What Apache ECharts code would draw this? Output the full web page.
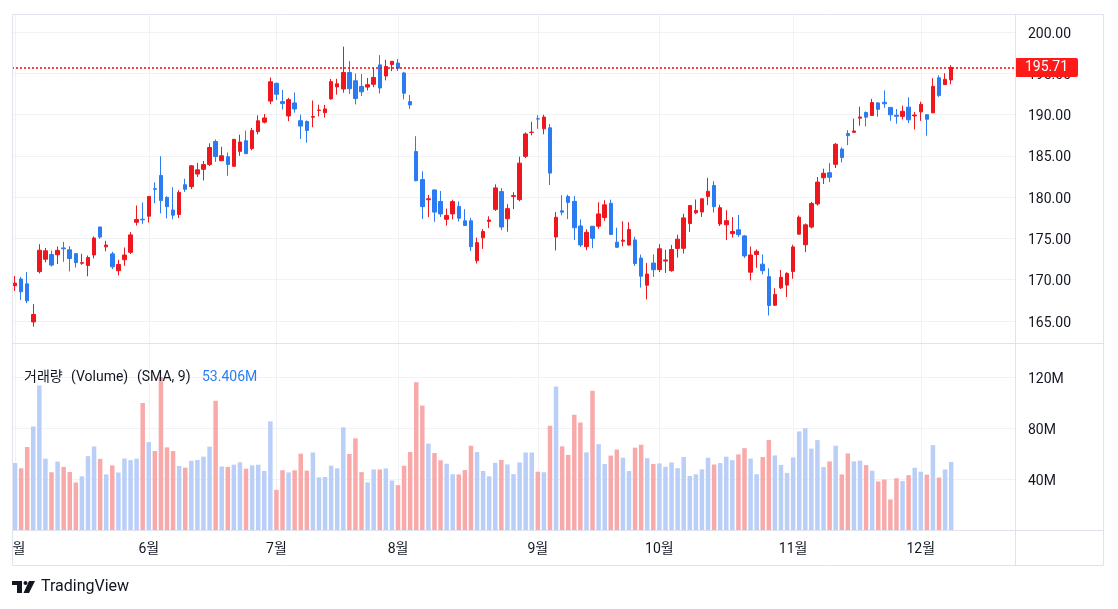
<!DOCTYPE html>
<html><head><meta charset="utf-8">
<script src="https://cdn.jsdelivr.net/npm/echarts@6/dist/echarts.min.js"></script>
<style>html,body{margin:0;padding:0;background:#fff;}#c{width:1118px;height:609px;}</style>
</head><body><div id="c"></div>
<script>
const dates = ['2023-05-01','2023-05-02','2023-05-03','2023-05-04','2023-05-05','2023-05-08','2023-05-09','2023-05-10','2023-05-11','2023-05-12','2023-05-15','2023-05-16','2023-05-17','2023-05-18','2023-05-19','2023-05-22','2023-05-23','2023-05-24','2023-05-25','2023-05-26','2023-05-30','2023-05-31',
'2023-06-01','2023-06-02','2023-06-05','2023-06-06','2023-06-07','2023-06-08','2023-06-09','2023-06-12','2023-06-13','2023-06-14','2023-06-15','2023-06-16','2023-06-20','2023-06-21','2023-06-22','2023-06-23','2023-06-26','2023-06-27','2023-06-28','2023-06-29','2023-06-30',
'2023-07-03','2023-07-05','2023-07-06','2023-07-07','2023-07-10','2023-07-11','2023-07-12','2023-07-13','2023-07-14','2023-07-17','2023-07-18','2023-07-19','2023-07-20','2023-07-21','2023-07-24','2023-07-25','2023-07-26','2023-07-27','2023-07-28','2023-07-31',
'2023-08-01','2023-08-02','2023-08-03','2023-08-04','2023-08-07','2023-08-08','2023-08-09','2023-08-10','2023-08-11','2023-08-14','2023-08-15','2023-08-16','2023-08-17','2023-08-18','2023-08-21','2023-08-22','2023-08-23','2023-08-24','2023-08-25','2023-08-28','2023-08-29','2023-08-30','2023-08-31',
'2023-09-01','2023-09-05','2023-09-06','2023-09-07','2023-09-08','2023-09-11','2023-09-12','2023-09-13','2023-09-14','2023-09-15','2023-09-18','2023-09-19','2023-09-20','2023-09-21','2023-09-22','2023-09-25','2023-09-26','2023-09-27','2023-09-28','2023-09-29',
'2023-10-02','2023-10-03','2023-10-04','2023-10-05','2023-10-06','2023-10-09','2023-10-10','2023-10-11','2023-10-12','2023-10-13','2023-10-16','2023-10-17','2023-10-18','2023-10-19','2023-10-20','2023-10-23','2023-10-24','2023-10-25','2023-10-26','2023-10-27','2023-10-30','2023-10-31',
'2023-11-01','2023-11-02','2023-11-03','2023-11-06','2023-11-07','2023-11-08','2023-11-09','2023-11-10','2023-11-13','2023-11-14','2023-11-15','2023-11-16','2023-11-17','2023-11-20','2023-11-21','2023-11-22','2023-11-24','2023-11-27','2023-11-28','2023-11-29','2023-11-30',
'2023-12-01','2023-12-04','2023-12-05','2023-12-06','2023-12-07','2023-12-08'];

const opens = [169.28,170.09,169.50,164.89,170.98,172.48,173.05,173.02,173.85,173.62,173.16,171.99,171.71,173.00,176.39,173.98,173.13,171.09,172.41,173.32,176.96,177.33,
177.70,181.03,182.63,179.97,178.44,177.90,181.50,181.27,182.80,183.37,183.96,186.73,184.41,184.90,183.74,185.55,186.83,185.89,187.93,189.08,191.63,
193.78,191.57,189.84,191.41,189.26,189.16,189.68,190.50,190.23,191.90,193.35,193.10,195.09,194.10,193.41,193.33,193.67,196.02,194.67,196.06,
196.24,195.04,191.57,185.52,182.13,179.69,180.87,179.48,177.32,177.97,178.88,177.13,177.14,172.30,175.07,177.06,178.52,180.67,177.38,180.09,179.70,184.94,187.84,
189.49,188.28,188.40,175.18,178.35,180.07,179.49,176.51,174.00,176.48,176.48,177.52,179.26,174.55,174.67,174.20,174.82,172.62,169.34,172.02,
171.22,172.26,171.09,173.79,173.80,176.81,178.10,178.20,180.07,181.42,176.75,176.65,175.58,176.04,175.31,170.91,173.05,171.88,170.37,166.91,169.02,169.35,
171.00,175.52,174.24,176.38,179.18,182.35,182.96,183.97,185.82,187.70,187.85,189.57,190.25,189.89,191.41,191.49,190.87,189.92,189.78,190.90,189.84,
190.33,189.98,190.21,194.45,193.63,194.20];

const highs = [170.45,170.35,170.92,167.04,174.30,173.85,173.54,174.03,174.59,174.06,173.21,173.14,172.93,175.24,176.39,174.71,173.38,172.42,173.90,175.77,178.99,179.35,
180.12,181.78,184.95,180.12,181.21,180.84,182.23,183.89,184.15,184.39,186.52,186.99,186.10,185.41,187.05,187.56,188.05,188.39,189.90,190.07,194.48,
193.88,192.98,192.02,192.67,189.99,189.30,191.70,191.19,191.18,194.32,194.33,198.23,196.47,194.97,194.91,194.44,195.64,197.20,196.63,196.49,
196.73,195.18,192.37,187.38,183.13,180.27,180.93,180.75,178.62,179.69,179.48,178.54,177.51,175.10,176.13,177.68,181.55,181.10,179.15,180.59,184.90,187.85,189.12,
189.92,189.98,188.85,178.21,180.24,180.30,180.13,177.30,176.10,176.50,179.38,179.63,179.70,176.30,177.08,176.97,175.20,173.04,172.03,173.07,
174.30,173.63,174.21,175.45,177.99,179.05,179.72,179.85,182.34,181.93,179.08,178.42,177.58,177.84,175.42,174.01,173.67,173.06,171.38,168.96,171.17,170.90,
174.23,177.78,176.82,179.43,182.44,183.45,184.12,186.57,186.03,188.11,189.50,190.96,190.38,191.91,191.52,192.93,190.90,190.67,191.08,192.09,190.32,
191.56,190.05,194.40,194.76,195.00,195.99];

const lows = [168.64,167.54,167.16,164.31,170.76,172.11,171.60,171.90,172.17,171.00,171.47,171.80,170.42,172.58,174.94,173.45,171.28,170.52,171.69,173.11,176.57,176.76,
176.93,179.26,178.04,177.43,177.32,177.46,180.63,180.97,182.44,182.02,183.78,184.27,184.41,182.59,183.67,185.01,185.23,185.67,187.60,188.94,191.26,
191.76,190.62,189.20,190.24,187.04,186.60,188.47,189.78,189.63,191.81,192.42,192.65,192.50,191.23,192.25,192.92,193.32,192.55,194.14,195.26,
195.28,191.85,190.69,181.92,177.35,177.58,177.01,177.60,176.55,177.31,177.05,176.50,173.48,171.96,173.74,176.25,178.33,176.01,175.82,178.55,179.50,184.74,187.48,
188.28,187.61,181.47,173.54,177.79,177.34,174.82,173.98,173.58,173.82,176.17,177.13,175.40,173.86,174.05,174.15,171.66,169.05,167.62,170.34,
170.93,170.82,170.97,172.68,173.18,175.80,177.95,177.60,179.04,178.14,176.51,174.80,175.11,175.19,172.64,169.93,171.45,170.65,165.67,166.83,168.87,167.90,
170.12,175.46,173.35,176.21,178.97,181.59,181.81,183.53,184.21,186.30,187.78,188.65,188.57,189.88,189.74,190.83,189.25,188.90,189.40,188.97,188.19,
189.23,187.45,190.18,192.11,193.59,193.67];

const closes = [169.59,168.54,167.45,165.79,173.57,173.50,171.77,173.56,173.75,172.57,172.07,172.07,172.69,175.05,175.16,174.20,171.56,171.84,172.99,175.43,177.30,177.25,
180.09,180.95,179.58,178.85,177.82,180.57,180.96,183.79,183.31,183.95,186.01,184.92,185.01,183.96,187.00,186.68,185.27,188.06,189.25,189.59,193.97,
192.46,191.33,191.81,190.68,188.61,188.08,189.77,190.54,190.69,193.99,193.73,195.10,193.13,191.94,192.75,193.62,194.50,193.22,195.83,196.45,
195.61,192.58,191.17,181.99,178.85,179.80,178.19,177.97,177.79,179.46,177.45,176.57,174.00,174.49,175.84,177.23,181.12,176.38,178.61,180.19,184.12,187.65,187.87,
189.46,189.70,182.91,177.56,178.18,179.36,176.30,174.21,175.74,175.01,177.97,179.07,175.49,173.93,174.79,176.08,171.96,170.43,170.69,171.21,
173.75,172.40,173.66,174.91,177.49,178.99,178.39,179.80,180.71,178.85,178.72,177.15,175.84,175.46,172.88,173.00,173.44,171.10,166.89,168.22,170.29,170.77,
173.97,177.57,176.65,179.23,181.82,182.89,182.41,186.40,184.80,187.44,188.01,189.71,189.69,191.45,190.64,191.31,189.97,189.79,190.40,189.37,189.95,
191.24,189.43,193.42,192.32,194.27,195.71];

// volume in millions of shares
const volumes = [52.5,48.4,65.1,81.2,113.3,55.9,45.3,53.7,49.5,45.5,37.3,42.1,57.9,65.5,55.8,43.6,50.7,45.1,56.1,54.8,55.9,99.6,
68.9,61.9,120.0,64.8,61.9,50.2,48.9,54.3,54.9,57.5,65.4,101.3,49.8,49.5,51.2,53.1,48.1,50.7,51.2,46.3,85.2,
31.5,46.9,45.2,46.8,59.9,46.6,60.8,41.3,41.6,50.5,48.4,80.5,59.6,71.9,45.4,37.3,47.5,47.5,48.3,38.8,
35.2,50.4,61.2,115.8,97.6,67.8,60.4,54.7,52.0,43.7,43.6,47.0,66.1,61.1,46.3,42.1,52.7,55.0,51.4,43.8,53.0,60.8,60.8,
45.7,45.3,81.8,112.5,65.6,58.9,90.4,84.3,60.9,109.3,67.3,51.8,58.4,63.1,56.7,46.2,64.6,66.9,56.3,51.8,
52.2,49.6,53.0,48.5,57.2,42.4,43.7,47.6,56.7,51.4,52.5,57.5,54.8,59.3,64.2,56.0,43.8,57.2,70.6,58.5,51.1,44.8,
56.9,77.3,79.8,63.8,70.5,49.3,53.8,66.1,43.6,60.1,53.8,54.4,50.9,46.5,38.1,39.6,24.0,40.6,38.4,43.0,48.8,
45.7,43.4,66.6,41.1,47.5,53.406];

const legendParts = ['거래량', '(Volume)', '(SMA, 9)'];

// ---- build chart ----
const N = dates.length;
const FUTURE = 10; // empty right-hand space of the time scale
const cats = dates.concat(Array.from({length: FUTURE}, (_, k) => 'future-' + k));
const isMonthStart = i => i < N && (i === 0 || dates[i].slice(5, 7) !== dates[i - 1].slice(5, 7));

const UP = '#f0161e', DOWN = '#2b7cf0';
const VOL_UP = '#b9cff8', VOL_DOWN = '#f8aaab';
const GRID = '#f0f2f6', FRAME = '#e0e3eb', TXT = '#131722';
const PRICE_LINE = '#ff0000';
const FONT = 'Roboto, "Noto Sans CJK KR", sans-serif';

const candleData = dates.map((d, i) => [opens[i], closes[i], lows[i], highs[i]]);
const volData = volumes.map((v, i) => ({value: v, itemStyle: {color: closes[i] > opens[i] ? VOL_UP : VOL_DOWN}}));
const lastClose = closes[N - 1], lastVol = volumes[N - 1];

const axisRich = {t: {fontSize: 14, color: TXT, fontFamily: FONT, padding: [4, 0, 0, 0]}};

const chart = echarts.init(document.getElementById('c'), null, {renderer: 'canvas'});
const legendX = [24, 71, 137, 202];
const option = {
  animation: false,
  backgroundColor: '#ffffff',
  textStyle: {fontFamily: FONT},
  grid: [
    {left: 12, width: 1003, top: 14, height: 348.3},
    {left: 12, width: 1003, top: 343, height: 187}
  ],
  xAxis: [
    {type: 'category', gridIndex: 0, data: cats, boundaryGap: true,
     axisLine: {show: false}, axisTick: {show: false}, axisLabel: {show: false},
     splitLine: {show: true, interval: (i) => isMonthStart(i), alignWithLabel: true, lineStyle: {color: GRID, width: 1}}},
    {type: 'category', gridIndex: 1, data: cats, boundaryGap: true,
     axisLine: {show: false}, axisTick: {show: false},
     axisLabel: {interval: (i) => isMonthStart(i), formatter: (v) => parseInt(v.slice(5, 7), 10) + '월',
                 color: TXT, fontSize: 14, margin: 12, fontFamily: FONT},
     splitLine: {show: true, interval: (i) => isMonthStart(i), alignWithLabel: true, lineStyle: {color: GRID, width: 1}}}
  ],
  yAxis: [
    {type: 'value', gridIndex: 0, position: 'right', min: 160, max: 202.18, interval: 5, scale: true,
     axisLine: {show: false}, axisTick: {show: false},
     axisLabel: {formatter: (v) => '{t|' + v.toFixed(2) + '}', rich: axisRich, margin: 13,
                 showMinLabel: false, showMaxLabel: false},
     splitLine: {show: true, showMinLine: false, showMaxLine: false, lineStyle: {color: GRID}}},
    {type: 'value', gridIndex: 1, position: 'right', min: 0, max: 146.67, interval: 40,
     axisLine: {show: false}, axisTick: {show: false},
     axisLabel: {formatter: (v) => '{t|' + v + 'M}', rich: axisRich, margin: 13,
                 showMinLabel: false, showMaxLabel: false},
     splitLine: {show: true, showMinLine: false, showMaxLine: false, lineStyle: {color: GRID}}}
  ],
  series: [
    {type: 'candlestick', xAxisIndex: 0, yAxisIndex: 0, data: candleData, barWidth: 4,
     itemStyle: {color: UP, color0: DOWN, borderColor: UP, borderColor0: DOWN, borderWidth: 1}},
    // last-price line (reference line at the final close)
    {type: 'line', name: 'last', xAxisIndex: 0, yAxisIndex: 0, data: [], color: PRICE_LINE,
     itemStyle: {color: PRICE_LINE}, lineStyle: {color: PRICE_LINE}, z: 5,
     markLine: {silent: true, symbol: 'none', z: 10,
       lineStyle: {color: PRICE_LINE, type: [2, 2], width: 1.5},
       label: {show: true, position: 'end', distance: 0, formatter: lastClose.toFixed(2),
               color: '#fff', backgroundColor: '#ff1a1a', padding: [3, 10, 2, 10], fontSize: 14, fontFamily: FONT, borderRadius: 2},
       data: [{yAxis: lastClose}]}},
    {type: 'bar', xAxisIndex: 1, yAxisIndex: 1, data: volData, barWidth: '74%',
     markLine: {silent: true, symbol: 'none', z: 10,
       lineStyle: {opacity: 0},
       label: {show: true, position: 'end', distance: 0, formatter: lastVol.toFixed(3) + 'M',
               color: '#fff', backgroundColor: '#2a7ff5', padding: [3, 10, 2, 10], fontSize: 14, fontFamily: FONT, borderRadius: 2},
       data: [{yAxis: lastVol}]}}
  ],
  graphic: [
    {type: 'rect', z: 100, shape: {x: 0, y: 531, width: 12.5, height: 34}, style: {fill: '#fff'}},
    {type: 'rect', z: 101, shape: {x: 12.5, y: 14.5, width: 1091, height: 551}, style: {fill: null, stroke: FRAME, lineWidth: 1}},
    {type: 'line', z: 101, shape: {x1: 1015.5, y1: 14.5, x2: 1015.5, y2: 565.5}, style: {stroke: FRAME, lineWidth: 1}},
    {type: 'line', z: 101, shape: {x1: 12.5, y1: 343.5, x2: 1103.5, y2: 343.5}, style: {stroke: FRAME, lineWidth: 1}},
    {type: 'line', z: 101, shape: {x1: 12.5, y1: 530.5, x2: 1103.5, y2: 530.5}, style: {stroke: FRAME, lineWidth: 1}},
    {type: 'text', z: 102, x: legendX[0], y: 377, style: {text: legendParts[0], fontSize: 14, fill: TXT, fontFamily: FONT, verticalAlign: 'middle'}},
    {type: 'text', z: 102, x: legendX[1], y: 377, style: {text: legendParts[1], fontSize: 14, fill: TXT, fontFamily: FONT, verticalAlign: 'middle'}},
    {type: 'text', z: 102, x: legendX[2], y: 377, style: {text: legendParts[2], fontSize: 14, fill: TXT, fontFamily: FONT, verticalAlign: 'middle'}},
    {type: 'text', z: 102, x: legendX[3], y: 377, style: {text: lastVol.toFixed(3) + 'M', fontSize: 14, fill: '#2a7ff5', fontFamily: FONT, verticalAlign: 'middle'}},
    // TradingView mark
    {type: 'rect', z: 102, shape: {x: 12, y: 581, width: 10, height: 4}, style: {fill: TXT}},
    {type: 'rect', z: 102, shape: {x: 17, y: 581, width: 5, height: 12}, style: {fill: TXT}},
    {type: 'circle', z: 102, shape: {cx: 25.5, cy: 583, r: 2}, style: {fill: TXT}},
    {type: 'polygon', z: 102, shape: {points: [[29, 581], [35, 581], [29, 593], [23.5, 593]]}, style: {fill: TXT}},
    {type: 'text', z: 102, x: 41, y: 587, style: {text: 'TradingView', fontSize: 16, fill: TXT, fontFamily: FONT, verticalAlign: 'middle'}}
  ]
};
chart.setOption(option);
</script>
</body></html>
